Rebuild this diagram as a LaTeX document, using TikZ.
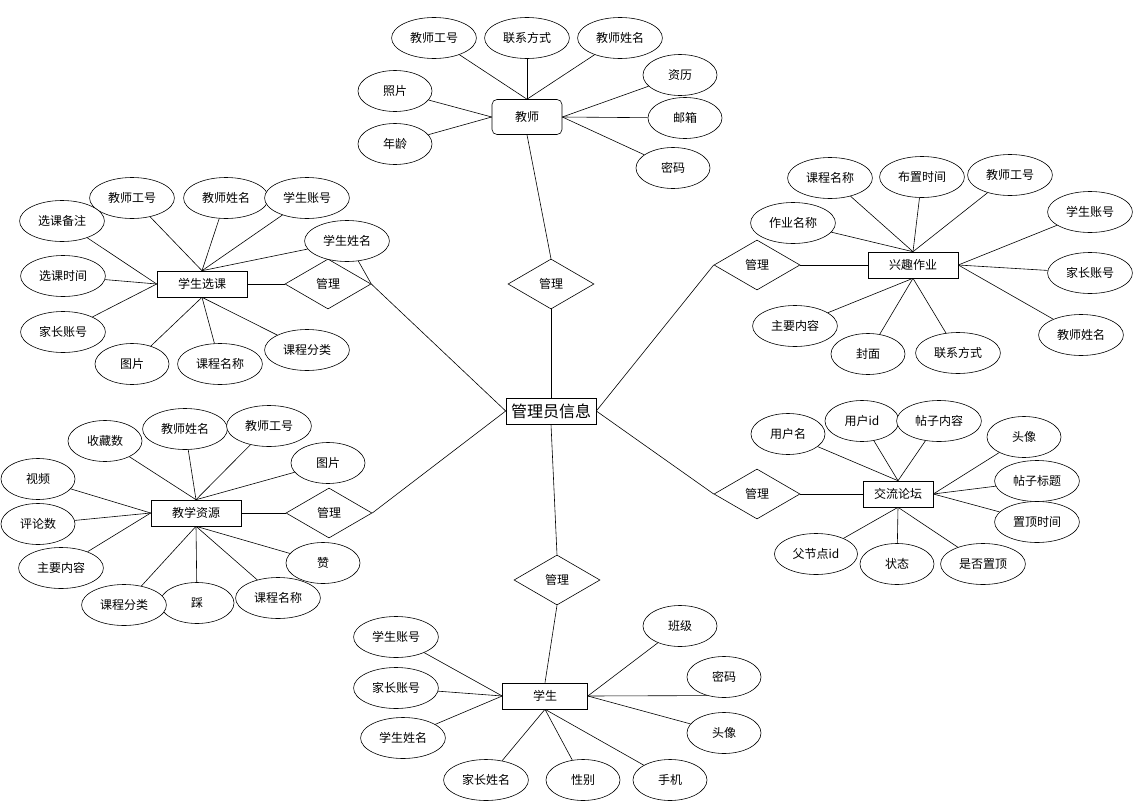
\documentclass[tikz,border=0pt]{standalone}
\usepackage{fontspec}
\setmainfont{Noto Sans CJK SC}
\usepackage{xcolor}
\usepackage{tikz}
\usetikzlibrary{
    shapes.geometric
}

\begin{document}
\begin{tikzpicture}[
    x=1pt, y=-1pt,
    line width=0.6pt,
    entity/.style={
        rectangle,
        draw,
        fill=white,
        align=center,
        minimum width=90pt,
        minimum height=26pt,
        inner sep=2pt,
        font=\fontsize{12}{14}\selectfont
    },
    attr/.style={
        ellipse,
        draw,
        fill=white,
        minimum width=74pt,
        minimum height=41pt,
        inner xsep=6pt,
        inner ysep=3pt,
        font=\fontsize{12}{14}\selectfont
    },
    relation/.style={
        diamond,
        draw,
        fill=white,
        minimum width=86pt,
        minimum height=50pt,
        inner sep=0pt,
        font=\fontsize{12}{14}\selectfont
    },
    link/.style={line width=0.6pt}
]
\useasboundingbox (0,0) rectangle (1136,806);

% centre
\node[entity, minimum width=90pt, font=\fontsize{16}{18}\selectfont] (admin) at (551,411) {管理员信息};

% relations
\node[relation] (mTeacher)  at (551,284) {管理};
\node[relation] (mCourse)   at (328,284) {管理};
\node[relation] (mHomework) at (757,265) {管理};
\node[relation] (mResource) at (329,513) {管理};
\node[relation] (mForum)    at (757,494) {管理};
\node[relation] (mStudent)  at (557,580) {管理};

% teacher
\node[entity, rounded corners=5pt, minimum width=70pt, minimum height=35pt] (teacher) at (527,117) {教师};
\node[attr] (ta1) at (434,38)  {教师工号};
\node[attr] (ta2) at (527,38)  {联系方式};
\node[attr] (ta3) at (620,38)  {教师姓名};
\node[attr] (ta4) at (395,91)  {照片};
\node[attr] (ta5) at (395,144) {年龄};
\node[attr] (ta6) at (680,75)  {资历};
\node[attr] (ta7) at (685,118) {邮箱};
\node[attr] (ta8) at (673,168) {密码};

% course selection
\node[entity] (course) at (202,284) {学生选课};
\node[attr] (ca1)  at (132,198) {教师工号};
\node[attr] (ca2)  at (226,198) {教师姓名};
\node[attr] (ca3)  at (307,198) {学生账号};
\node[attr] (ca4)  at (347,241) {学生姓名};
\node[attr] (ca5)  at (62,221)  {选课备注};
\node[attr] (ca6)  at (63,276)  {选课时间};
\node[attr] (ca7)  at (63,332)  {家长账号};
\node[attr] (ca8)  at (132,364) {图片};
\node[attr] (ca9)  at (220,364) {课程名称};
\node[attr] (ca10) at (307,350) {课程分类};

% homework
\node[entity] (homework) at (913,265) {兴趣作业};
\node[attr] (ha1)  at (830,178)  {课程名称};
\node[attr] (ha2)  at (922,177)  {布置时间};
\node[attr] (ha3)  at (1010,175) {教师工号};
\node[attr] (ha4)  at (793,223)  {作业名称};
\node[attr] (ha5)  at (1090,212) {学生账号};
\node[attr] (ha6)  at (1090,273) {家长账号};
\node[attr] (ha7)  at (1081,335) {教师姓名};
\node[attr] (ha8)  at (795,326)  {主要内容};
\node[attr] (ha9)  at (868,354)  {封面};
\node[attr] (ha10) at (958,353)  {联系方式};

% teaching resource
\node[entity] (resource) at (196,513) {教学资源};
\node[attr] (ra1)  at (105,441) {收藏数};
\node[attr] (ra2)  at (185,429) {教师姓名};
\node[attr] (ra3)  at (269,426) {教师工号};
\node[attr] (ra4)  at (328,463) {图片};
\node[attr] (ra5)  at (38,479)  {视频};
\node[attr] (ra6)  at (38,524)  {评论数};
\node[attr] (ra7)  at (61,568)  {主要内容};
\node[attr] (ra8)  at (197,603) {踩};
\node[attr] (ra9)  at (124,605) {课程分类};
\node[attr] (ra10) at (278,598) {课程名称};
\node[attr] (ra11) at (323,563) {赞};

% forum
\node[entity, minimum width=70pt] (forum) at (898,494) {交流论坛};
\node[attr] (fa1) at (788,434)  {用户名};
\node[attr] (fa2) at (862,421)  {用户id};
\node[attr] (fa3) at (939,421)  {帖子内容};
\node[attr] (fa4) at (1024,437) {头像};
\node[attr] (fa5) at (1037,481) {帖子标题};
\node[attr] (fa6) at (1037,522) {置顶时间};
\node[attr] (fa7) at (816,554)  {父节点id};
\node[attr] (fa8) at (897,564)  {状态};
\node[attr] (fa9) at (983,564)  {是否置顶};

% student
\node[entity, minimum width=85pt] (student) at (545,696) {学生};
\node[attr] (sa1) at (396,637) {学生账号};
\node[attr] (sa2) at (396,688) {家长账号};
\node[attr] (sa3) at (403,738) {学生姓名};
\node[attr] (sa4) at (486,780) {家长姓名};
\node[attr] (sa5) at (583,780) {性别};
\node[attr] (sa6) at (670,780) {手机};
\node[attr] (sa7) at (680,626) {班级};
\node[attr] (sa8) at (724,677) {密码};
\node[attr] (sa9) at (724,733) {头像};

% attribute links
\foreach \a/\s in {ta1/north, ta2/north, ta3/north, ta4/west, ta5/west,
                   ta6/east, ta7/east, ta8/east}
    \draw[link] (teacher.\s) -- (\a);
\foreach \a/\s in {ca1/north, ca2/north, ca3/north, ca4/north, ca5/west,
                   ca6/west, ca7/west, ca8/south, ca9/south, ca10/south}
    \draw[link] (course.\s) -- (\a);
\foreach \a/\s in {ha1/north, ha2/north, ha3/north, ha4/north, ha5/east,
                   ha6/east, ha7/east, ha8/south, ha9/south, ha10/south}
    \draw[link] (homework.\s) -- (\a);
\foreach \a/\s in {ra1/north, ra2/north, ra3/north, ra4/north, ra5/west,
                   ra6/west, ra7/west, ra8/south, ra9/south, ra10/south, ra11/south}
    \draw[link] (resource.\s) -- (\a);
\foreach \a/\s in {fa1/north, fa2/north, fa3/north, fa4/east, fa5/east,
                   fa6/east, fa7/south, fa8/south, fa9/south}
    \draw[link] (forum.\s) -- (\a);
\foreach \a/\s in {sa1/west, sa2/west, sa3/west, sa4/south, sa5/south,
                   sa6/south, sa7/east, sa9/east}
    \draw[link] (student.\s) -- (\a);
\draw[link] (student.east) -- (sa8.228);

% relation links
\draw[link] (teacher.south) -- (mTeacher.north);
\draw[link] (mTeacher.south) -- (admin.north);
\draw[link] (course.east) -- (mCourse.west);
\draw[link] (mCourse.east) -- (admin.west);
\draw[link] (mCourse.east) -- (ca4);
\draw[link] (homework.west) -- (mHomework.east);
\draw[link] (mHomework.west) -- (admin.east);
\draw[link] (resource.east) -- (mResource.west);
\draw[link] (mResource.east) -- (admin.west);
\draw[link] (forum.west) -- (mForum.east);
\draw[link] (mForum.west) -- (admin.east);
\draw[link] (admin.south) -- (mStudent.north);
\draw[link] (mStudent.south) -- (student.north);

\end{tikzpicture}
\end{document}
